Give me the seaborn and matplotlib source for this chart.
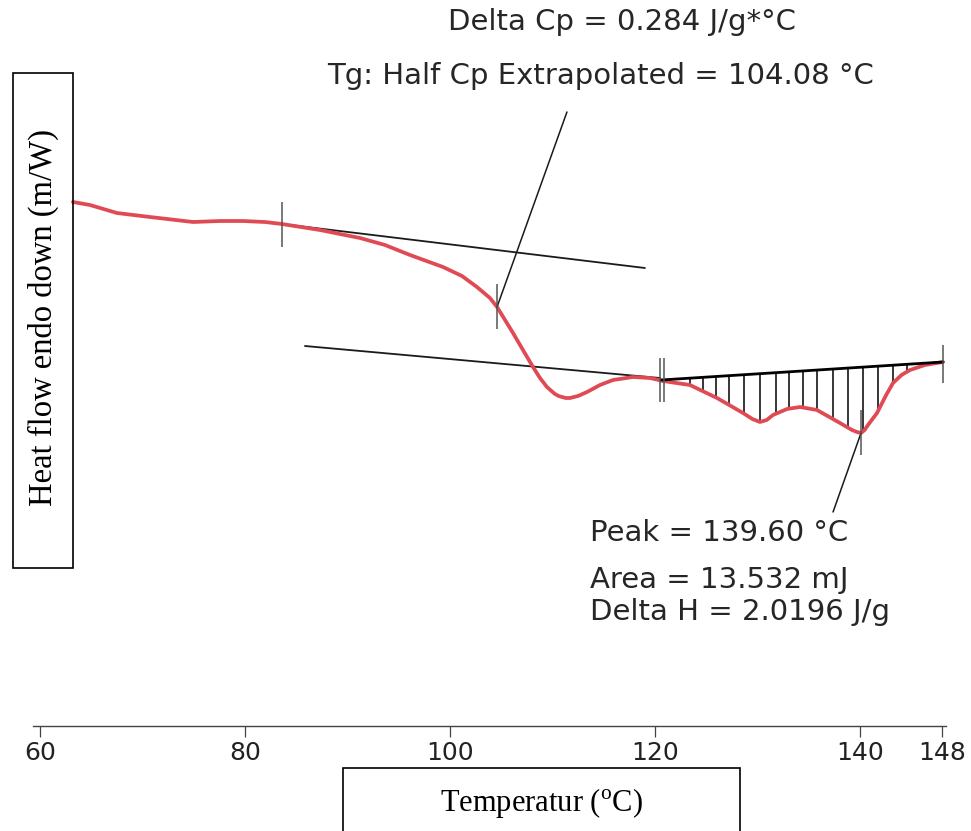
import numpy as np
import pandas as pd
import matplotlib
matplotlib.use("Agg")
import matplotlib.pyplot as plt
from matplotlib.patches import Rectangle
import seaborn as sns

# ---------------- data ----------------
temperature = [63.22, 64.88, 67.51, 70.73, 74.93, 77.56, 79.80, 81.95, 83.61, 87.32,
               91.22, 93.66, 96.10, 99.32, 101.17, 102.63, 103.90, 104.59, 105.37, 106.15,
               107.12, 108.10, 108.78, 109.46, 109.90, 110.24, 110.60, 110.93, 111.30, 111.71,
               112.10, 112.49, 113.37, 114.63, 115.90, 117.85, 119.51, 120.78, 123.41, 126.05,
               128.59, 129.50, 130.24, 130.90, 131.51, 132.88, 134.15, 135.80, 138.05, 139.22,
               139.70, 140.10, 140.45, 140.78, 141.66, 142.50, 143.22, 144.05, 144.88, 146.34,
               148.10]
heat_flow = [5.24, 5.21, 5.13, 5.09, 5.04, 5.05, 5.05, 5.04, 5.02, 4.96,
             4.88, 4.81, 4.71, 4.59, 4.50, 4.39, 4.28, 4.19, 4.06, 3.93,
             3.76, 3.59, 3.48, 3.39, 3.35, 3.32, 3.30, 3.29, 3.28, 3.28,
             3.29, 3.30, 3.34, 3.41, 3.46, 3.49, 3.48, 3.45, 3.41, 3.28,
             3.13, 3.07, 3.04, 3.06, 3.11, 3.17, 3.19, 3.16, 3.03, 2.96,
             2.94, 2.93, 2.96, 3.01, 3.13, 3.30, 3.43, 3.51, 3.56, 3.61,
             3.64]

# construction lines (T, heat flow) endpoints
upper_tangent_T = [83.61, 119.02]
upper_tangent_hf = [5.02, 4.58]
lower_tangent_T = [85.85, 120.49]
lower_tangent_hf = [3.80, 3.48]
tg_leader_T = [104.59, 111.41]
tg_leader_hf = [4.19, 6.14]
baseline_T = [120.59, 148.10]
baseline_hf = [3.46, 3.64]
peak_leader_T = [140.10, 137.37]
peak_leader_hf = [2.93, 2.14]
hatch_T = [123.4, 124.7, 126.0, 127.2, 128.7, 130.2, 131.8, 133.1, 134.4, 135.8,
           137.4, 138.8, 140.3, 141.8, 143.2, 144.6]

# vertical event markers: (T, hf_low, hf_high)
marker_T = [83.61, 104.59, 120.49, 120.88, 140.10, 148.10]
marker_lo = [4.79, 3.97, 3.24, 3.24, 2.71, 3.43]
marker_hi = [5.24, 4.42, 3.68, 3.68, 3.16, 3.81]

x_ticks = [60, 80, 100, 120, 140, 148]
x_tick_labels = ["60", "80", "100", "120", "140", "148"]

text_dcp = "Delta Cp = 0.284 J/g*°C"
text_tg = "Tg: Half Cp Extrapolated = 104.08 °C"
text_peak = "Peak = 139.60 °C"
text_area = "Area = 13.532 mJ"
text_dh = "Delta H = 2.0196 J/g"
y_label = "Heat flow endo down (m/W)"
x_label = r"Temperatur ($^{\mathrm{o}}$C)"

# ---------------- figure ----------------
sns.set_theme(style="white")
plt.rcParams["font.family"] = ["DejaVu Sans"]
plt.rcParams["mathtext.fontset"] = "custom"
plt.rcParams["mathtext.rm"] = "Liberation Serif"

W, H = 971, 831
fig = plt.figure(figsize=(W / 100, H / 100), dpi=100)
fig.patch.set_facecolor("white")


def fx(px):
    return px / W


def fy(py):
    return 1 - py / H


ax = fig.add_axes([fx(33), fy(726), fx(946) - fx(33), 726 / H])
ax.set_facecolor("white")

df = pd.DataFrame({"T": temperature, "hf": heat_flow})
sns.lineplot(data=df, x="T", y="hf", ax=ax, color="#e04a55", linewidth=2.7,
             zorder=5, sort=True)
for ln in ax.lines:
    ln.set_solid_joinstyle("round")
    ln.set_solid_capstyle("round")

line_col = "#1a1a1a"
ax.plot(upper_tangent_T, upper_tangent_hf, color=line_col, lw=1.3, zorder=4)
ax.plot(lower_tangent_T, lower_tangent_hf, color=line_col, lw=1.3, zorder=4)
ax.plot(tg_leader_T, tg_leader_hf, color=line_col, lw=1.1, zorder=6)
ax.plot(peak_leader_T, peak_leader_hf, color=line_col, lw=1.1, zorder=6)
ax.plot(baseline_T, baseline_hf, color="black", lw=2.0, zorder=6)

# hatching between baseline and curve
hatch_T = np.array(hatch_T)
curve_at = np.interp(hatch_T, temperature, heat_flow)
base_at = np.interp(hatch_T, baseline_T, baseline_hf)
ax.vlines(hatch_T, curve_at, base_at, color="black", lw=1.1, zorder=4)

ax.vlines(marker_T, marker_lo, marker_hi, color="#555555", lw=1.1, zorder=7)

ax.set_xlim(59.32, 148.39)
ax.set_ylim(0, 7.26)
ax.set_xticks(x_ticks)
ax.set_xticklabels(x_tick_labels)
ax.set_yticks([])
ax.set_xlabel("")
ax.set_ylabel("")
for s in ["top", "right", "left"]:
    ax.spines[s].set_visible(False)
ax.spines["bottom"].set_color("#444444")
ax.spines["bottom"].set_linewidth(1.0)
ax.tick_params(axis="x", direction="out", length=8, width=0.9, color="#444444",
               labelsize=18, labelcolor="#222222", pad=3, bottom=True)

# annotations
tkw = dict(fontsize=21, color="#262626", family=["DejaVu Sans"])
fig.text(fx(448), fy(22), text_dcp, ha="left", va="center", **tkw)
fig.text(fx(327), fy(76), text_tg, ha="left", va="center", **tkw)
fig.text(fx(590), fy(533), text_peak, ha="left", va="center", **tkw)
fig.text(fx(590), fy(580), text_area, ha="left", va="center", **tkw)
fig.text(fx(590), fy(612), text_dh, ha="left", va="center", **tkw)

# label boxes
fig.patches.append(Rectangle((fx(13), fy(568)), fx(73) - fx(13), fy(73) - fy(568),
                             transform=fig.transFigure, fill=False, ec="black",
                             lw=1.2, zorder=10))
fig.text(fx(43), fy(318), y_label, rotation=90, ha="center", va="center",
         fontsize=23.5, family=["Liberation Serif"], color="black")

fig.patches.append(Rectangle((fx(343), fy(845)), fx(740) - fx(343), fy(768) - fy(845),
                             transform=fig.transFigure, fill=False, ec="black",
                             lw=1.2, zorder=10, clip_on=False))
fig.text(fx(541), fy(803), x_label, ha="center", va="center",
         fontsize=22, family=["Liberation Serif"], color="black")

fig.savefig("out.png", dpi=100)
